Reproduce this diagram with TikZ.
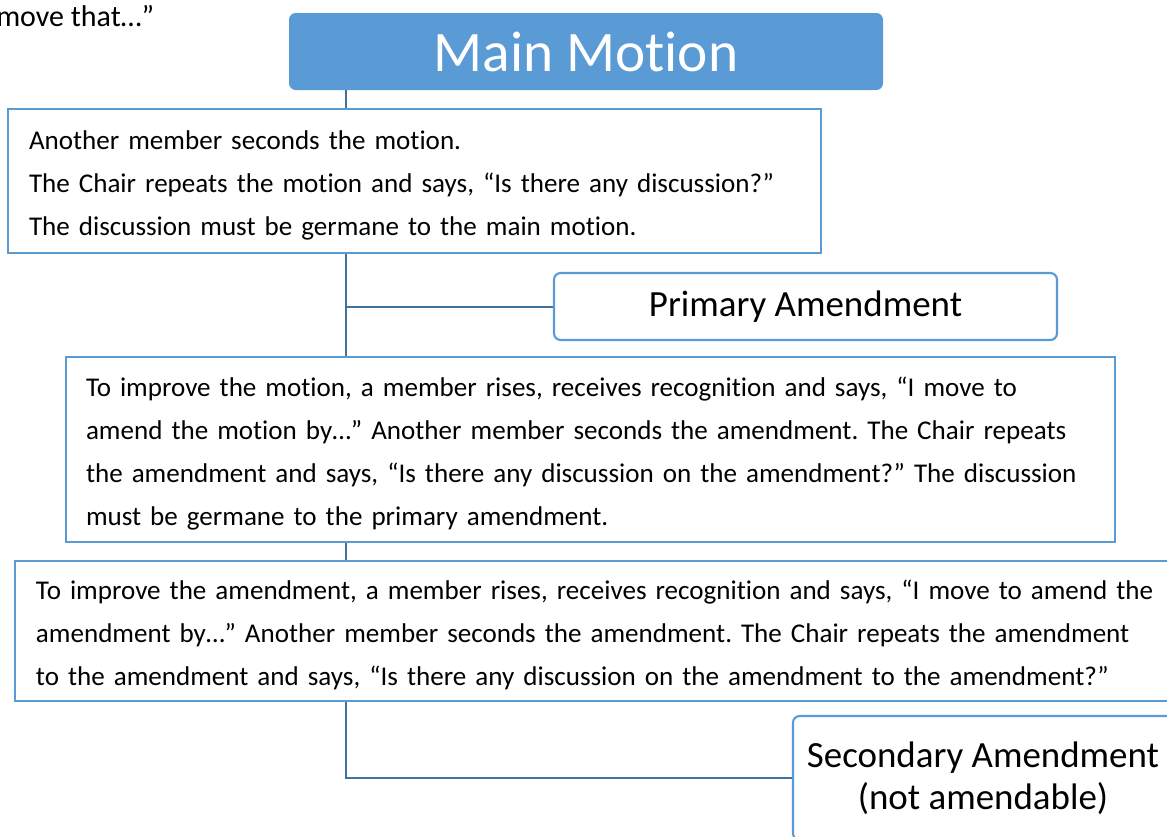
\documentclass[tikz,border=0pt]{standalone}
\usepackage{fontspec}
\setmainfont{Carlito}[RawFeature={-liga;-clig;-calt;-dlig}]
\definecolor{accent}{HTML}{5B9BD5}
\definecolor{conn}{HTML}{41719C}
\newcommand{\topstrut}{\rule{0pt}{21pt}}
\tikzset{
  box/.style={draw=accent, line width=1.6pt, fill=white, align=left, anchor=center, inner ysep=0pt},
  rbox/.style={draw=accent, line width=1.6pt, fill=white, rounded corners=5pt, align=center, font=\fontsize{27.7pt}{31.5pt}\selectfont, inner sep=0pt},
  title/.style={fill=accent, rounded corners=5pt, text=white, font=\fontsize{43pt}{50pt}\selectfont, inner sep=0pt},
  body/.style={font=\fontsize{20.3pt}{32.25pt}\selectfont},
  link/.style={draw=conn, line width=1.5pt}
}
\frenchspacing
\begin{document}
\begin{tikzpicture}[x=0.75pt,y=-0.75pt]
\useasboundingbox (0,0) rectangle (1167,836);
\coordinate (sx) at (346,0);
\node[anchor=base west, inner sep=0pt, font=\fontsize{22.5pt}{24pt}\selectfont] (lead) at (-4,26) {move that…”};
\node[title, minimum width=594*0.75pt, minimum height=77*0.75pt] (main) at (586,51.5) {Main Motion};
\node[box, body, inner xsep=16pt, text width=771*0.75pt, minimum height=144*0.75pt] (b1) at (414.5,181)
  {\topstrut Another member seconds the motion.\\
   The Chair repeats the motion and says, “Is there any discussion?”\\
   The discussion must be germane to the main motion.};
\node[rbox, minimum width=503*0.75pt, minimum height=67*0.75pt] (prim) at (805.5,306.5) {Primary Amendment};
\node[box, body, inner xsep=15pt, text width=1009*0.75pt, minimum height=185*0.75pt] (b2) at (590.5,449.5)
  {\topstrut To improve the motion, a member rises, receives recognition and says, “I move to\\
   amend the motion by…” Another member seconds the amendment. The Chair repeats\\
   the amendment and says, “Is there any discussion on the amendment?” The discussion\\
   must be germane to the primary amendment.};
\node[box, body, inner xsep=15.75pt, text width=1123*0.75pt, minimum height=140*0.75pt] (b3) at (597.5,631)
  {\topstrut To improve the amendment, a member rises, receives recognition and says, “I move to amend the\\
   amendment by…” Another member seconds the amendment. The Chair repeats the amendment\\
   to the amendment and says, “Is there any discussion on the amendment to the amendment?”};
\node[rbox, minimum width=380*0.75pt, minimum height=124*0.75pt] (sec) at (983,778)
  {Secondary Amendment\\(not amendable)};
\draw[link] (main.south -| sx) -- (b1.north -| sx);
\draw[link] (b1.south -| sx) -- (b2.north -| sx);
\draw[link] (prim.west -| sx) -- (prim.west);
\draw[link] (b2.south -| sx) -- (b3.north -| sx);
\draw[link] (b3.south -| sx) -- (sec.west -| sx) -- (sec.west);
\end{tikzpicture}
\end{document}
